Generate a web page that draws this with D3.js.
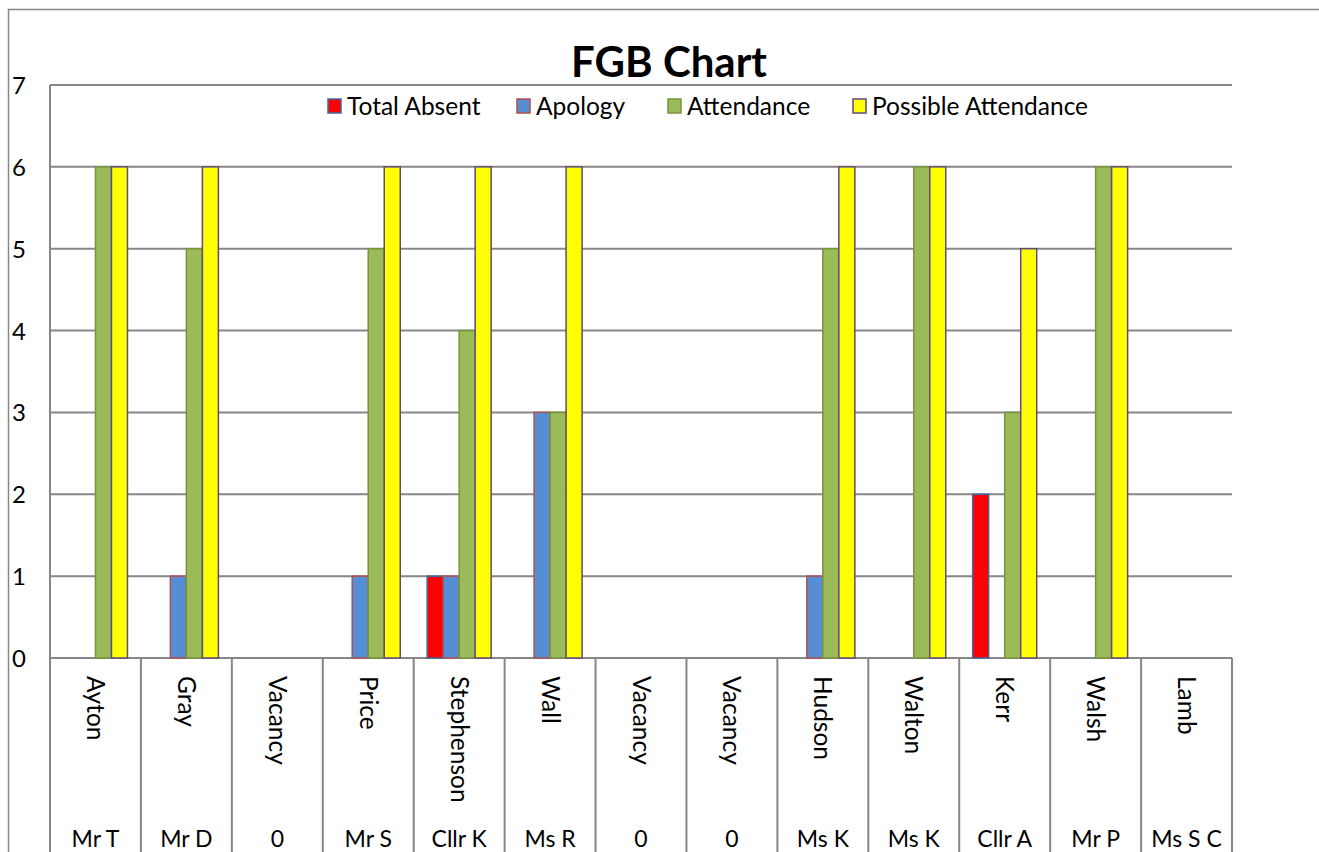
<!DOCTYPE html>
<html>
<head>
<meta charset="utf-8">
<script src="https://cdn.jsdelivr.net/npm/d3@7"></script>
<style>
  body { margin: 0; background: #fff; }
  svg { display: block; font-family: Lato, "Open Sans", sans-serif; }
</style>
</head>
<body>
<svg width="1319" height="852"></svg>
<script>
// names (first level) and titles (second level) of the category axis
const names = ["Ayton", "Gray", "Vacancy", "Price", "Stephenson", "Wall", "Vacancy", "Vacancy", "Hudson", "Walton", "Kerr", "Walsh", "Lamb"];
const titles = ["Mr T", "Mr D", "0", "Mr S", "Cllr K", "Ms R", "0", "0", "Ms K", "Ms K", "Cllr A", "Mr P", "Ms S C"];

const seriesNames = ["Total Absent", "Apology", "Attendance", "Possible Attendance"];
const totalAbsent = [0, 0, 0, 0, 1, 0, 0, 0, 0, 0, 2, 0, 0];
const apology = [0, 1, 0, 1, 1, 3, 0, 0, 1, 0, 0, 0, 0];
const attendance = [6, 5, 0, 5, 4, 3, 0, 0, 5, 6, 3, 6, 0];
const possible = [6, 6, 0, 6, 6, 6, 0, 0, 6, 6, 5, 6, 0];
const yTicks = [0, 1, 2, 3, 4, 5, 6, 7];

const fills = ["#ff0000", "#558ed5", "#9bbb59", "#ffff00"];
const strokes = ["#3f6aa0", "#b0504d", "#77933c", "#604a7b"];

const svg = d3.select("svg");
const plotLeft = 50, plotRight = 1232, plotTop = 85, plotBottom = 658;
const grey = "#878787";

const keys = names.map((n, i) => i);
const x = d3.scaleBand().domain(keys).range([plotLeft, plotRight]).padding(0);
const xInner = d3.scaleBand().domain(seriesNames).range([0, x.bandwidth()]).paddingInner(0).paddingOuter(0.84);
const y = d3.scaleLinear().domain([0, 7]).range([plotBottom, plotTop]);

// outer chart frame
svg.append("path")
    .attr("d", "M8.5,852 V9.5 H1319")
    .attr("fill", "none").attr("stroke", grey).attr("stroke-width", 1.5);

// title
svg.append("text")
    .attr("x", 669).attr("y", 77)
    .attr("text-anchor", "middle")
    .attr("font-size", 42).attr("font-weight", "bold")
    .text("FGB Chart");

// gridlines
svg.append("g").selectAll("line")
    .data(yTicks)
    .join("line")
    .attr("x1", plotLeft).attr("x2", plotRight)
    .attr("y1", d => y(d)).attr("y2", d => y(d))
    .attr("stroke", grey).attr("stroke-width", 2);

// y axis line
svg.append("line")
    .attr("x1", plotLeft).attr("x2", plotLeft).attr("y1", plotTop).attr("y2", plotBottom)
    .attr("stroke", grey).attr("stroke-width", 2);

// y tick labels (left aligned near the frame)
svg.append("g").selectAll("text")
    .data(yTicks)
    .join("text")
    .attr("x", 12).attr("y", d => y(d) + 9)
    .attr("font-size", 24)
    .text(d => d);

// bars
const table = [totalAbsent, apology, attendance, possible];
const barData = [];
seriesNames.forEach((s, si) => {
    table[si].forEach((v, i) => {
        if (v > 0) barData.push({ s, si, i, v });
    });
});

svg.append("g").selectAll("rect")
    .data(barData)
    .join("rect")
    .attr("x", d => x(d.i) + xInner(d.s))
    .attr("width", xInner.bandwidth())
    .attr("y", d => y(d.v))
    .attr("height", d => y(0) - y(d.v))
    .attr("fill", d => fills[d.si])
    .attr("stroke", d => strokes[d.si])
    .attr("stroke-width", 1.5);

// category separators below the axis
svg.append("g").selectAll("line")
    .data(d3.range(names.length + 1))
    .join("line")
    .attr("x1", d => plotLeft + d * x.step()).attr("x2", d => plotLeft + d * x.step())
    .attr("y1", plotBottom).attr("y2", 852)
    .attr("stroke", grey).attr("stroke-width", 2);

// first level: rotated names
svg.append("g").selectAll("text")
    .data(names)
    .join("text")
    .attr("transform", (d, i) => `translate(${x(i) + x.bandwidth() / 2 + 1},676) rotate(90)`)
    .attr("dominant-baseline", "central")
    .attr("font-size", 24.5)
    .text(d => d);

// second level: titles
svg.append("g").selectAll("text")
    .data(titles)
    .join("text")
    .attr("x", (d, i) => x(i) + x.bandwidth() / 2)
    .attr("y", 847)
    .attr("text-anchor", "middle")
    .attr("font-size", 23)
    .text(d => d);

// legend
const legendX = [328, 517, 668, 853];
const legend = svg.append("g").selectAll("g")
    .data(seriesNames)
    .join("g")
    .attr("transform", (d, i) => `translate(${legendX[i]},99)`);
legend.append("rect")
    .attr("width", 13).attr("height", 14)
    .attr("fill", (d, i) => fills[i])
    .attr("stroke", (d, i) => strokes[i])
    .attr("stroke-width", 1.5);
legend.append("text")
    .attr("x", 19).attr("y", 15.5)
    .attr("font-size", 24.5)
    .text(d => d);
</script>
</body>
</html>
